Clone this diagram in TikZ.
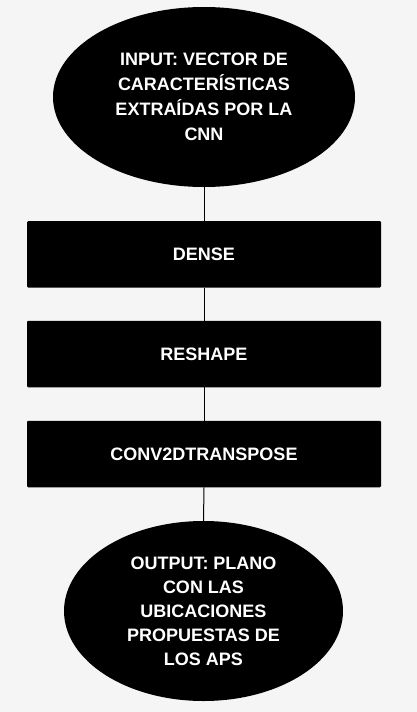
\documentclass[tikz,border=0pt]{standalone}
\usepackage{fontspec}
\setmainfont{Liberation Sans}
\usetikzlibrary{shapes.geometric}
\definecolor{bg}{HTML}{F5F5F5}
\tikzset{
  blob/.style={ellipse, fill=black, text=white, inner sep=0pt, align=center,
    font=\fontsize{18pt}{25pt}\selectfont\bfseries},
  layerbox/.style={rectangle, fill=black, text=white, rounded corners=1.2pt,
    minimum width=354pt, minimum height=66.5pt, inner sep=0pt,
    font=\fontsize{18pt}{25pt}\selectfont\bfseries},
  link/.style={draw=black, line width=1pt}
}
\begin{document}
\begin{tikzpicture}[x=1pt,y=-1pt]
\fill[bg] (0,0) rectangle (417,712);
\useasboundingbox (0,0) rectangle (417,712);
\node[blob, minimum width=302pt, minimum height=180pt] (in) at (204,97)
  {INPUT: VECTOR DE\\CARACTERÍSTICAS\\EXTRAÍDAS POR LA\\CNN};
\node[layerbox] (dense) at (204,254.3) {DENSE};
\node[layerbox] (reshape) at (204,354) {RESHAPE};
\node[layerbox] (conv) at (204,454) {CONV2DTRANSPOSE};
\node[blob, minimum width=279pt, minimum height=180pt,
  font=\fontsize{18pt}{24pt}\selectfont\bfseries] (out) at (203.5,611)
  {OUTPUT: PLANO\\CON LAS\\UBICACIONES\\PROPUESTAS DE\\LOS APS};
\draw[link] (in.south) -- (dense.north);
\draw[link] (dense.south) -- (reshape.north);
\draw[link] (reshape.south) -- (conv.north);
\draw[link] (conv.south) -- (out.north);
\end{tikzpicture}
\end{document}
